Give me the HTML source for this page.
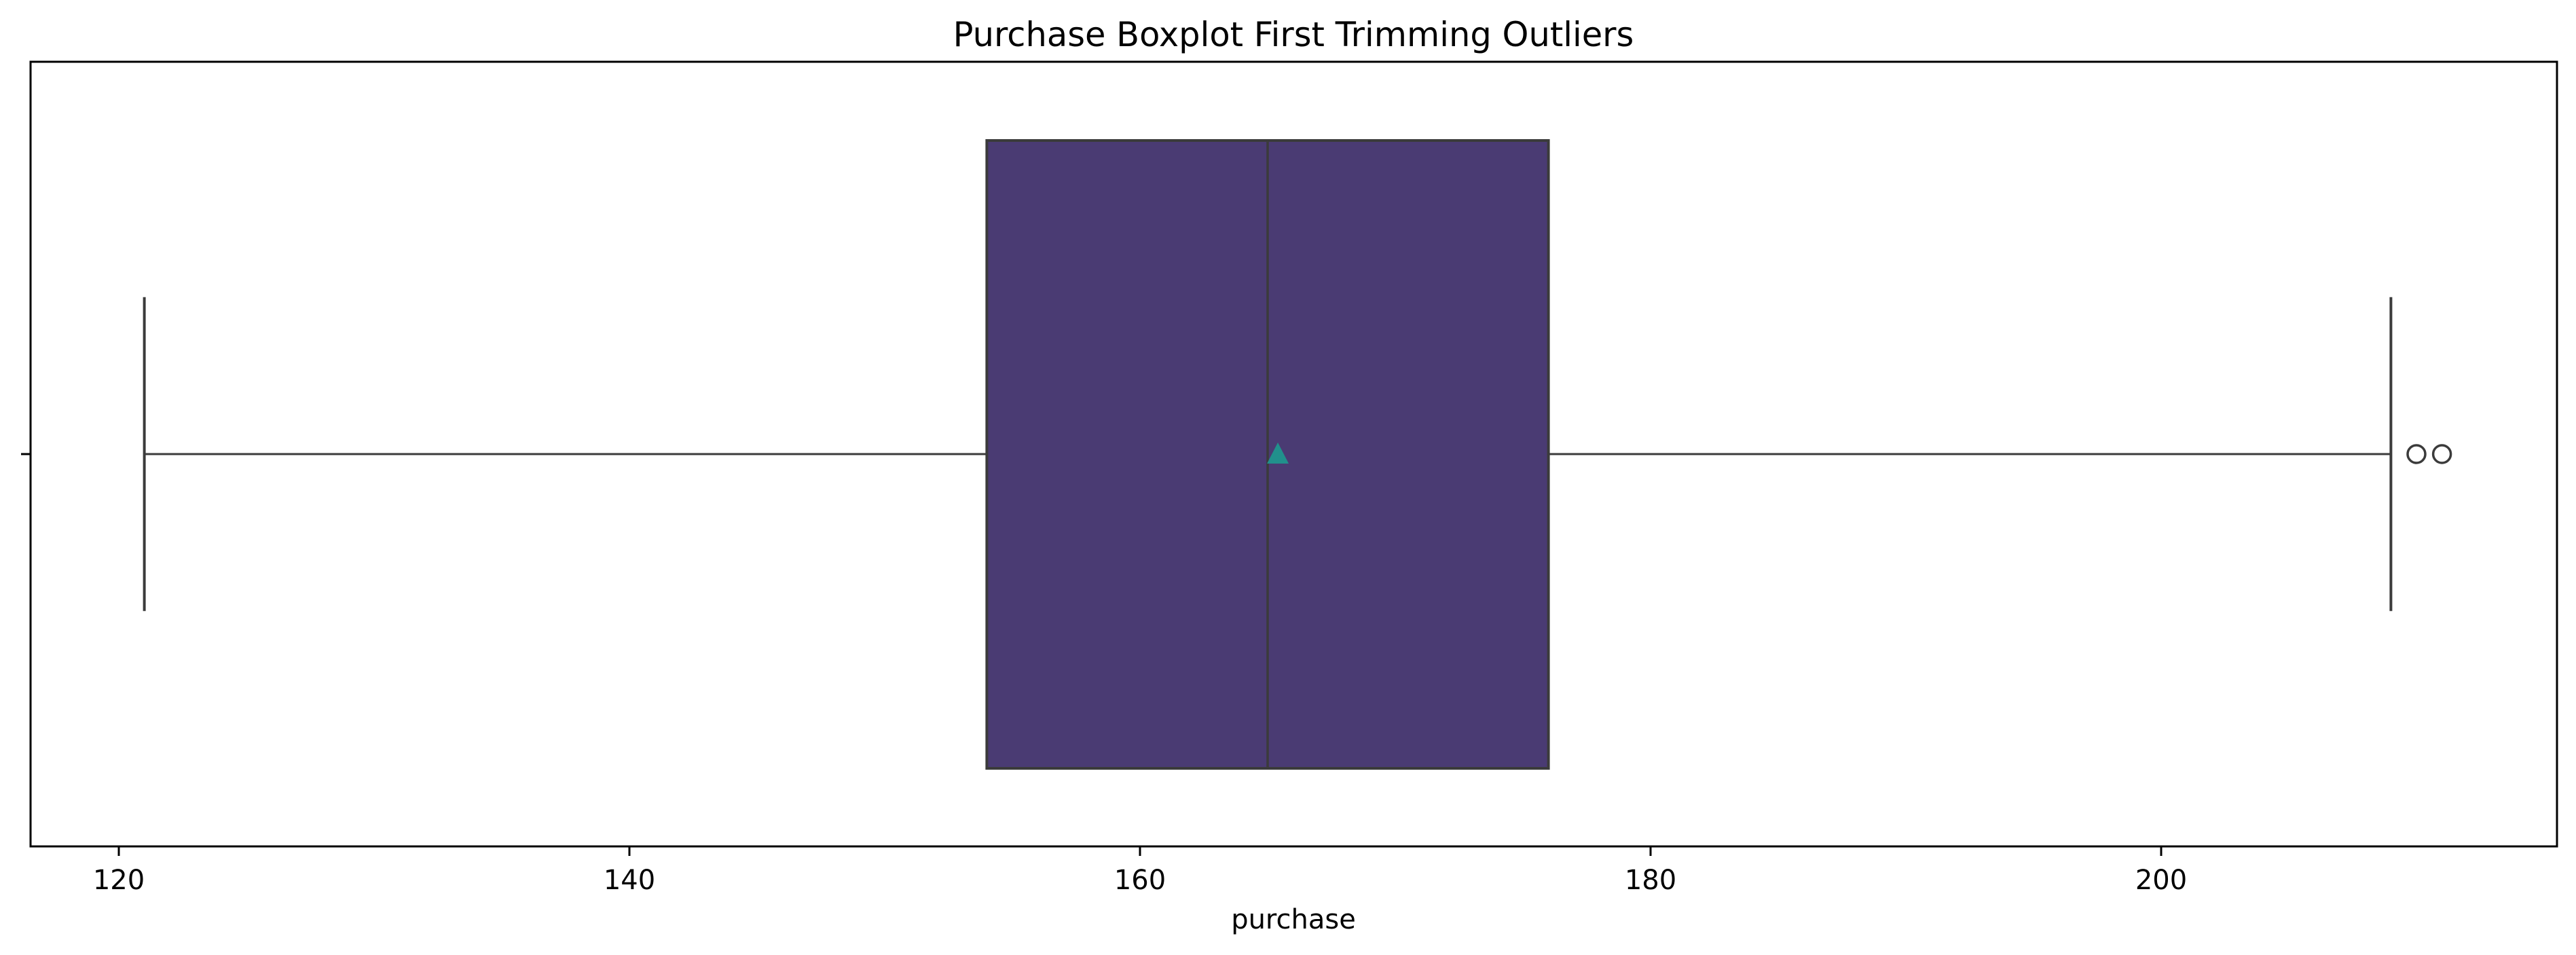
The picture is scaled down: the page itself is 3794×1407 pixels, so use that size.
<!DOCTYPE html>
<html><head><meta charset="utf-8"><style>
html,body{margin:0;padding:0;background:#fff}
svg{display:block}
text{font-family:"DejaVu Sans","Liberation Sans",sans-serif;fill:#000}
</style></head><body>
<svg id="chart" width="3794" height="1407" viewBox="0 0 3794 1407" xmlns="http://www.w3.org/2000/svg">
<text x="1905" y="68" font-size="49.5" text-anchor="middle">Purchase Boxplot First Trimming Outliers</text>
<g id="plot"></g>
<rect x="45" y="91" width="3721" height="1156" fill="none" stroke="#000" stroke-width="3"/>
<text x="1905" y="1368" font-size="40" text-anchor="middle">purchase</text>
</svg>
<script>
const tickValues = [120, 140, 160, 180, 200];
const tickLabels = ["120", "140", "160", "180", "200"];
const boxStats = [121, 154, 165, 176, 209]; // whiskerLow, q1, median, q3, whiskerHigh
const meanValue = [165.4];
const outliers = [210.0, 211.0];

const NS = "http://www.w3.org/2000/svg";
const g = document.getElementById('plot');
function x(v){ return 1679 + (v - 160) * 37.6; }
const yTop = 207, yBot = 1132, yMid = 669;
function mk(tag, attrs){ const e = document.createElementNS(NS, tag); for (const k in attrs) e.setAttribute(k, attrs[k]); g.appendChild(e); return e; }
const stroke = "#3b3b3b";

let e = mk('line', {x1:x(boxStats[0]), x2:x(boxStats[1]), y1:yMid, y2:yMid, stroke:stroke, 'stroke-width':3});


e = mk('line', {x1:x(boxStats[3]), x2:x(boxStats[4]), y1:yMid, y2:yMid, stroke:stroke, 'stroke-width':3});


const capH = (yBot - yTop) / 4;
e = mk('line', {x1:x(boxStats[0]), x2:x(boxStats[0]), y1:yMid-capH, y2:yMid+capH, stroke:stroke, 'stroke-width':4});


e = mk('line', {x1:x(boxStats[4]), x2:x(boxStats[4]), y1:yMid-capH, y2:yMid+capH, stroke:stroke, 'stroke-width':4});


e = mk('rect', {x:x(boxStats[1]), y:yTop, width:x(boxStats[3])-x(boxStats[1]), height:yBot-yTop, fill:"#4a3b73", stroke:stroke, 'stroke-width':4});


e = mk('line', {x1:x(boxStats[2]), x2:x(boxStats[2]), y1:yTop, y2:yBot, stroke:stroke, 'stroke-width':3.5});


const mx = x(meanValue[0]);
e = mk('polygon', {points:`${mx},${yMid-17} ${mx-16},${yMid+14} ${mx+16},${yMid+14}`, fill:"#21908c"});


outliers.forEach(v => {
  const c = mk('circle', {cx:x(v), cy:yMid, r:13, fill:"none", stroke:stroke, 'stroke-width':3.5});
  
  
});
tickValues.forEach((v, i) => {
  const t = mk('line', {x1:x(v), x2:x(v), y1:1247, y2:1261, stroke:"#000", 'stroke-width':3});
  
  
  const l = mk('text', {x:x(v), y:1310, 'font-size':40, 'text-anchor':'middle'});
  l.textContent = tickLabels[i];
  
  
});
e = mk('line', {x1:31, x2:45, y1:yMid, y2:yMid, stroke:"#000", 'stroke-width':3});


</script>
</body></html>
